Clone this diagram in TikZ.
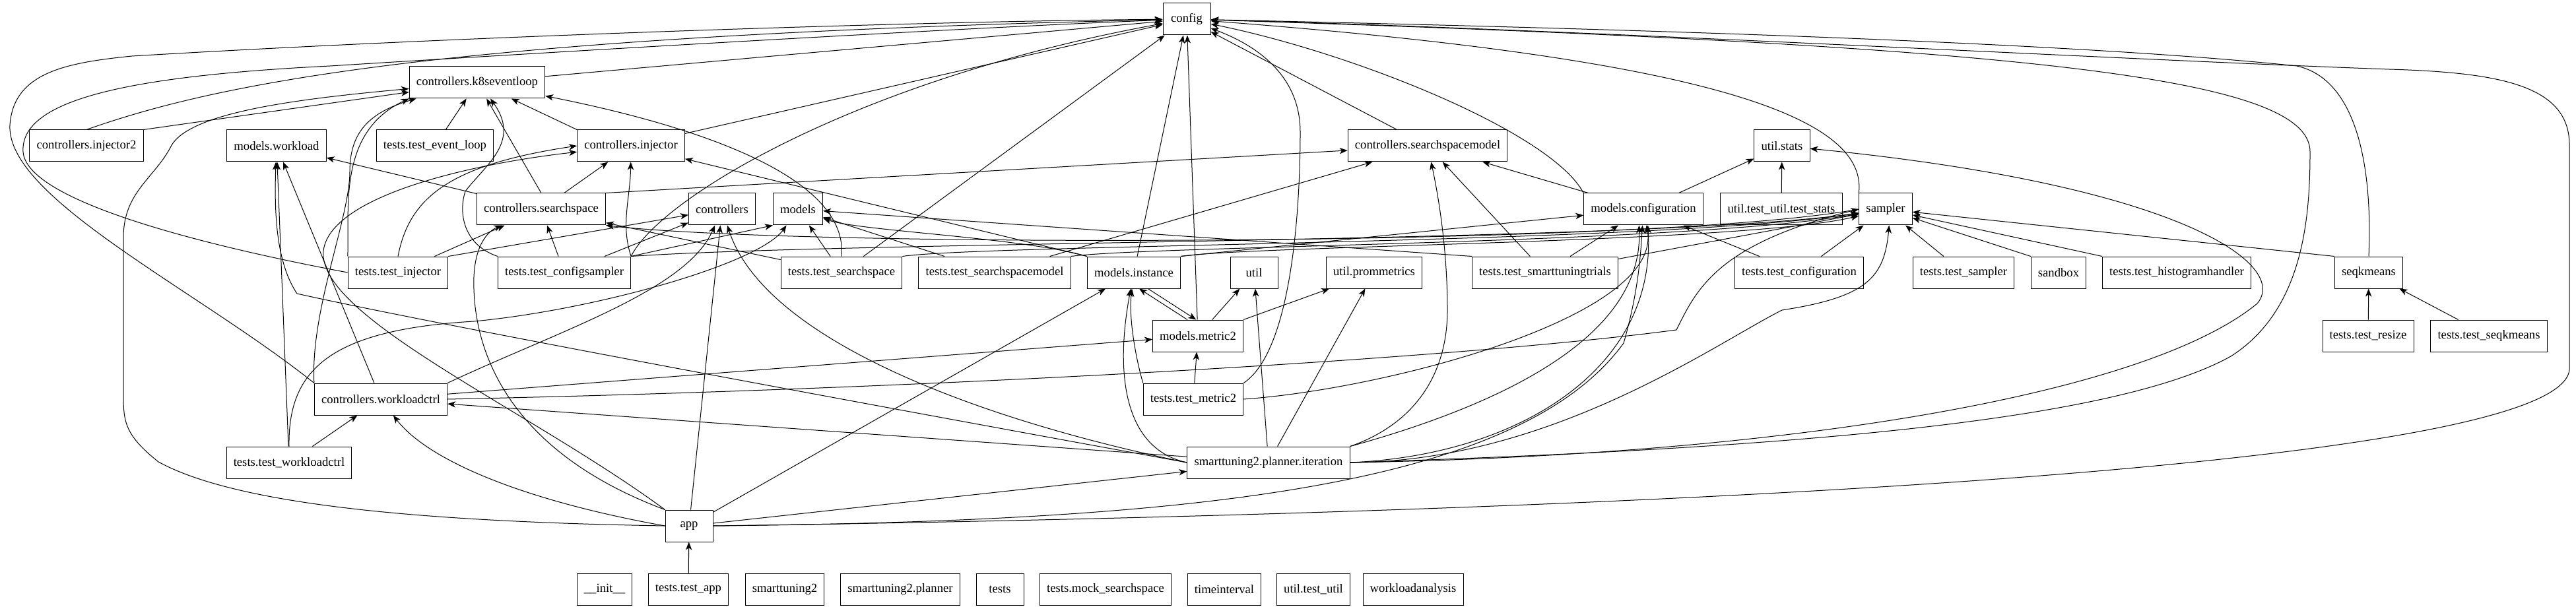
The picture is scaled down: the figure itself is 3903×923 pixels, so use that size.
\documentclass[tikz,border=0pt]{standalone}
\usepackage{fontspec}
\setmainfont{Liberation Serif}
\usetikzlibrary{arrows.meta}
\begin{document}
\begin{tikzpicture}[x=0.75pt,y=-0.75pt,>={Stealth[length=9pt,width=7pt,inset=2.5pt]},
  mod/.style={draw,line width=0.75pt,font=\fontsize{14}{16}\selectfont,minimum height=36pt,minimum width=54pt,inner xsep=8pt},
  dep/.style={->,line width=0.75pt}]
  \useasboundingbox (0,0) rectangle (3903,923);

  \node[mod] (config) at (1798,29) {config};
  \node[mod] (k8s) at (723,125) {controllers.k8seventloop};
  \node[mod] (inj2) at (131,221) {controllers.injector2};
  \node[mod] (wl) at (419,221) {models.workload};
  \node[mod] (tel) at (659,221) {tests.test\_event\_loop};
  \node[mod] (inj) at (956,221) {controllers.injector};
  \node[mod] (ssm) at (2163,221) {controllers.searchspacemodel};
  \node[mod] (stats) at (2700,221) {util.stats};
  \node[mod] (ss) at (820,317) {controllers.searchspace};
  \node[mod] (ctrl) at (1094,317) {controllers};
  \node[mod] (models) at (1209,317) {models};
  \node[mod] (conf) at (2490,317) {models.configuration};
  \node[mod] (tstats) at (2699,317) {util.test\_util.test\_stats};
  \node[mod] (sampler) at (2857,317) {sampler};
  \node[mod] (tinj) at (603,413) {tests.test\_injector};
  \node[mod] (tcs) at (855,413) {tests.test\_configsampler};
  \node[mod] (tss) at (1275,413) {tests.test\_searchspace};
  \node[mod] (tssm) at (1507,413) {tests.test\_searchspacemodel};
  \node[mod] (inst) at (1718,413) {models.instance};
  \node[mod] (util) at (1900,413) {util};
  \node[mod] (prom) at (2082,413) {util.prommetrics};
  \node[mod] (tstt) at (2341,413) {tests.test\_smarttuningtrials};
  \node[mod] (tconf) at (2726,413) {tests.test\_configuration};
  \node[mod] (tsamp) at (2975,413) {tests.test\_sampler};
  \node[mod] (sandbox) at (3119,413) {sandbox};
  \node[mod] (thist) at (3298,413) {tests.test\_histogramhandler};
  \node[mod] (seqk) at (3589,413) {seqkmeans};
  \node[mod] (metric) at (1815,509) {models.metric2};
  \node[mod] (tresize) at (3588,509) {tests.test\_resize};
  \node[mod] (tseqk) at (3771,509) {tests.test\_seqkmeans};
  \node[mod] (wctrl) at (577,605) {controllers.workloadctrl};
  \node[mod] (tmetric) at (1808,605) {tests.test\_metric2};
  \node[mod] (twc) at (438,701) {tests.test\_workloadctrl};
  \node[mod] (iter) at (1922,701) {smarttuning2.planner.iteration};
  \node[mod] (app) at (1044,797) {app};
  \node[mod] (init) at (916,893) {\_\_init\_\_};
  \node[mod] (tapp) at (1043,893) {tests.test\_app};
  \node[mod] (st2) at (1189,893) {smarttuning2};
  \node[mod] (st2p) at (1364,893) {smarttuning2.planner};
  \node[mod] (tests) at (1515,893) {tests};
  \node[mod] (mockss) at (1675,893) {tests.mock\_searchspace};
  \node[mod] (timeint) at (1855,893) {timeinterval};
  \node[mod] (testutil) at (1990,893) {util.test\_util};
  \node[mod] (wla) at (2141,893) {workloadanalysis};

  % into config
  \draw[dep] (k8s) -- (config);
  \draw[dep] (inj2.north) .. controls (320,130) and (650,55) .. (config);
  \draw[dep] (inj) -- (config);
  \draw[dep] (tcs.north east) .. controls (1000,300) and (1300,120) .. (config);
  \draw[dep] (tss) -- (config);
  \draw[dep] (inst) -- (config);
  \draw[dep] (metric) -- (config);
  \draw[dep] (ssm) -- (config);
  \draw[dep] (conf.north west) .. controls (2350,200) and (2050,80) .. (config);
  \draw[dep] (sampler.north west) .. controls (2830,180) and (2600,90) .. (config);
  \draw[dep] (tmetric.north east) .. controls (1960,530) and (1970,300) .. (1970,200) .. controls (1970,100) and (1880,60) .. (config);
  \draw[dep] (wctrl.north west) .. controls (300,440) and (10,300) .. (15,190) .. controls (20,110) and (100,95) .. (200,85) .. controls (700,55) and (1400,32) .. (config);
  \draw[dep] (tinj.west) .. controls (350,380) and (40,310) .. (35,230) .. controls (30,150) and (200,115) .. (500,100) .. controls (900,75) and (1500,40) .. (config);
  \draw[dep] (seqk.north) .. controls (3595,250) and (3570,120) .. (3480,100) .. controls (3100,60) and (2300,40) .. (config);
  \draw[dep] (iter.east) .. controls (2700,680) and (3200,640) .. (3380,540) .. controls (3490,470) and (3500,330) .. (3500,230) .. controls (3500,120) and (3100,70) .. (config);
  \draw[dep] (app.east) .. controls (2300,780) and (3880,720) .. (3893,560) -- (3893,220) .. controls (3893,130) and (3790,110) .. (3620,105) .. controls (3200,90) and (2400,45) .. (config);

  % into controllers.k8seventloop
  \draw[dep] (inj2.north east) -- (k8s);
  \draw[dep] (tel) -- (k8s);
  \draw[dep] (inj.north west) -- (k8s);
  \draw[dep] (ss.north) -- (k8s);
  \draw[dep] (tinj.north west) .. controls (530,320) and (510,200) .. (k8s.south west);
  \draw[dep] (wctrl.north west) .. controls (470,470) and (530,330) .. (530,260) .. controls (530,200) and (560,170) .. ([xshift=8pt]k8s.south west);
  \draw[dep] (tcs.north west) .. controls (700,370) and (695,320) .. (705,290) .. controls (735,250) and (790,215) .. ([xshift=15pt]k8s.south);
  \draw[dep] (tss.north) .. controls (1285,280) and (1100,200) .. (k8s);
  \draw[dep] (app.west) .. controls (600,790) and (350,760) .. (240,700) .. controls (190,660) and (187,640) .. (187,600) -- (187,360) .. controls (187,290) and (235,270) .. (260,220) .. controls (290,170) and (450,150) .. (k8s);

  % into models.workload
  \draw[dep] (ss) -- (wl);
  \draw[dep] (wctrl) -- (wl);
  \draw[dep] (twc) -- (wl);
  \draw[dep] (iter.west) .. controls (1300,610) and (650,490) .. (450,445) .. controls (420,400) and (415,330) .. (wl);

  % into controllers.injector
  \draw[dep] (tinj.north) .. controls (620,300) and (680,250) .. (inj.west);
  \draw[dep] (tcs.north east) .. controls (940,340) and (955,300) .. (inj);
  \draw[dep] (ss) -- (inj);
  \draw[dep] (inst.north west) -- (inj);
  \draw[dep] (app.north west) .. controls (800,620) and (480,480) .. (490,380) .. controls (500,300) and (700,250) .. (inj);

  % into controllers.searchspace
  \draw[dep] (tinj) -- (ss);
  \draw[dep] (tcs) -- (ss);
  \draw[dep] (tss) -- (ss);
  \draw[dep] (sampler.west) .. controls (2500,375) and (1200,375) .. (ss.south east);
  \draw[dep] (app.north west) .. controls (760,680) and (715,520) .. (718,420) .. controls (720,370) and (740,350) .. (ss);

  % into controllers and models
  \draw[dep] (tinj.north east) -- (ctrl);
  \draw[dep] (tcs) -- (ctrl);
  \draw[dep] (app) -- (ctrl);
  \draw[dep] (wctrl.north east) .. controls (850,500) and (1040,440) .. (ctrl);
  \draw[dep] (iter.west) .. controls (1500,640) and (1160,520) .. (ctrl);
  \draw[dep] (tcs.north east) -- (models.south west);
  \draw[dep] (tss) -- (models);
  \draw[dep] (tssm) -- (models);
  \draw[dep] (tstt.north west) -- (models);
  \draw[dep] (inst.north west) .. controls (1550,360) and (1300,350) .. (models);
  \draw[dep] (twc.north) .. controls (436,560) and (500,500) .. (718,487) .. controls (900,470) and (1150,400) .. (models);

  % into controllers.searchspacemodel and util.stats
  \draw[dep] (ss.north east) -- (ssm);
  \draw[dep] (tssm) -- (ssm);
  \draw[dep] (tstt) -- (ssm);
  \draw[dep] (conf) -- (ssm);
  \draw[dep] (iter.north east) .. controls (2150,640) and (2193,560) .. (2193,470) .. controls (2193,380) and (2180,300) .. (ssm);
  \draw[dep] (conf) -- (stats);
  \draw[dep] (tstats) -- (stats);
  \draw[dep] (iter.east) .. controls (2700,690) and (3250,600) .. (3420,460) .. controls (3470,400) and (3300,280) .. (stats);

  % into models.configuration
  \draw[dep] (inst.north east) -- (conf);
  \draw[dep] (tstt) -- (conf);
  \draw[dep] (tconf) -- (conf);
  \draw[dep] (iter.north east) .. controls (2250,620) and (2490,520) .. ([xshift=-5pt]conf.south);
  \draw[dep] (iter.east) .. controls (2300,690) and (2510,560) .. ([xshift=5pt]conf.south);
  \draw[dep] (tmetric.east) .. controls (2100,590) and (2520,480) .. (conf);
  \draw[dep] (app.east) .. controls (1800,790) and (2300,740) .. (2460,520) .. controls (2480,450) and (2485,400) .. (conf);

  % into sampler
  \draw[dep] (tcs.north east) .. controls (1300,365) and (2500,368) .. (sampler);
  \draw[dep] (tss.north east) .. controls (1500,370) and (2500,370) .. (sampler);
  \draw[dep] (tssm.north east) .. controls (1750,372) and (2550,370) .. (sampler);
  \draw[dep] (inst.north east) .. controls (1900,372) and (2650,368) .. (sampler);
  \draw[dep] (tstt) -- (sampler);
  \draw[dep] (tconf) -- (sampler);
  \draw[dep] (tsamp) -- (sampler);
  \draw[dep] (sandbox.north west) -- (sampler);
  \draw[dep] (thist.north west) -- (sampler);
  \draw[dep] (seqk.north west) -- (sampler);
  \draw[dep] (wctrl.east) .. controls (1400,590) and (2200,545) .. (2540,500) .. controls (2570,440) and (2600,370) .. (sampler.west);
  \draw[dep] (iter.east) .. controls (2350,700) and (2600,520) .. (2700,470) .. controls (2830,450) and (2855,420) .. ([xshift=4pt]sampler.south);

  % models.instance, models.metric2, util
  \draw[dep] ([xshift=-12pt]metric.north) -- ([xshift=6pt]inst.south);
  \draw[dep] ([xshift=16pt]inst.south) -- ([xshift=-2pt]metric.north);
  \draw[dep] (tmetric.north west) .. controls (1720,540) and (1710,480) .. (inst);
  \draw[dep] (iter.west) .. controls (1700,680) and (1690,560) .. (inst);
  \draw[dep] (app) -- (inst);
  \draw[dep] (metric) -- (util);
  \draw[dep] (iter) -- (util);
  \draw[dep] (metric.north east) -- (prom);
  \draw[dep] (iter) -- (prom);
  \draw[dep] (tmetric) -- (metric);
  \draw[dep] (wctrl) -- (metric);

  % lower part
  \draw[dep] (twc) -- (wctrl);
  \draw[dep] (iter) -- (wctrl);
  \draw[dep] (app.west) .. controls (800,760) and (650,700) .. (wctrl);
  \draw[dep] (app) -- (iter);
  \draw[dep] (tapp) -- (app);
  \draw[dep] (tresize) -- (seqk);
  \draw[dep] (tseqk) -- (seqk);
\end{tikzpicture}
\end{document}
